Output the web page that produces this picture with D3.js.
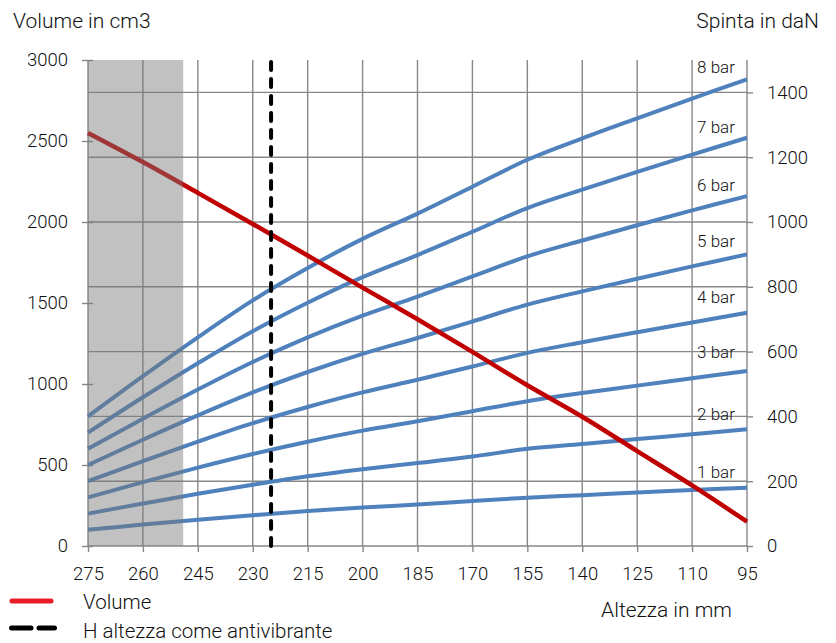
<!DOCTYPE html>
<html>
<head>
<meta charset="utf-8">
<script src="https://cdn.jsdelivr.net/npm/d3@7"></script>
<style>
  html, body { margin: 0; padding: 0; background: #fff; }
  svg { display: block; font-family: Roboto, "Noto Sans", sans-serif; font-weight: 300; }
  text { fill: #111; }
</style>
</head>
<body>
<svg id="chart" width="836" height="643"></svg>
<script>
// ---- data ----
const heights = [275, 260, 245, 230, 215, 200, 185, 170, 155, 140, 125, 110, 95];
const volume  = [2550, 2370, 2180, 1988, 1793, 1595, 1400, 1198, 992, 798, 586, 374, 150];
const bar1 = [50, 66, 81, 95, 108, 119, 128, 139, 149, 157, 165, 173, 180];
const bar2 = [100, 131, 161, 189, 215, 237, 256, 276, 300, 315, 330, 345, 360];
const bar3 = [150, 197, 242, 284, 322, 356, 385, 416, 447, 472, 495, 518, 540];
const bar4 = [200, 262, 322, 379, 429, 474, 513, 554, 596, 629, 660, 690, 720];
const bar5 = [250, 328, 403, 474, 537, 593, 642, 693, 745, 786, 825, 863, 900];
const bar6 = [300, 393, 483, 568, 644, 711, 770, 832, 894, 943, 990, 1036, 1080];
const bar7 = [350, 459, 564, 663, 751, 830, 898, 970, 1043, 1100, 1155, 1208, 1260];
const bar8 = [400, 524, 644, 758, 858, 948, 1026, 1109, 1192, 1258, 1320, 1381, 1440];
const barSeries = [bar1, bar2, bar3, bar4, bar5, bar6, bar7, bar8];
const barNames = ["1 bar", "2 bar", "3 bar", "4 bar", "5 bar", "6 bar", "7 bar", "8 bar"];
const leftTicks = [0, 500, 1000, 1500, 2000, 2500, 3000];
const rightTicks = [0, 200, 400, 600, 800, 1000, 1200, 1400];
const xTicks = heights;
const antivibHeight = 225;
const shadedRange = [275, 249];
const leftTitle = "Volume in cm3";
const rightTitle = "Spinta in daN";
const xTitle = "Altezza in mm";
const legendNames = ["Volume", "H altezza come antivibrante"];

// ---- layout ----
const svg = d3.select("#chart");
const x = d3.scaleLinear().domain([275, 95]).range([88, 747]);
const yL = d3.scaleLinear().domain([0, 3000]).range([546, 60]);
const yR = d3.scaleLinear().domain([0, 1500]).range([546, 60]);
const gridColor = "#878787";
const tickFont = 18.5;

// gridlines
const grid = svg.append("g");
grid.selectAll("line.v").data(xTicks).join("line")
  .attr("x1", d => x(d)).attr("x2", d => x(d))
  .attr("y1", yR(1500)).attr("y2", yR(0))
  .attr("stroke", gridColor).attr("stroke-width", 1.4);
grid.selectAll("line.h").data(rightTicks).join("line")
  .attr("x1", x(275)).attr("x2", x(95))
  .attr("y1", d => yR(d)).attr("y2", d => yR(d))
  .attr("stroke", gridColor).attr("stroke-width", 1.4);

// axes
function styleAxis(g) {
  g.attr("font-family", null).attr("font-size", null);
  g.select(".domain").remove();
  g.selectAll(".tick line").attr("stroke", gridColor).attr("stroke-width", 1.4);
  g.selectAll(".tick text").attr("font-size", tickFont).attr("fill", "#111");
}
svg.append("g").attr("transform", `translate(${x(275)},0)`)
  .call(d3.axisLeft(yL).tickValues(leftTicks).tickSize(6).tickPadding(14).tickFormat(d3.format("d")))
  .call(styleAxis)
  .call(g => g.selectAll(".tick line").attr("x1", 5));
svg.append("g").attr("transform", `translate(${x(95)},0)`)
  .call(d3.axisRight(yR).tickValues(rightTicks).tickSize(6).tickPadding(14).tickFormat(d3.format("d")))
  .call(styleAxis);
svg.append("g").attr("transform", `translate(0,${yR(0)})`)
  .call(d3.axisBottom(x).tickValues(xTicks).tickSize(6).tickPadding(15).tickFormat(d3.format("d")))
  .call(styleAxis);

// series
const lineR = d3.line().x((d, i) => x(heights[i])).y(d => yR(d)).curve(d3.curveCatmullRom.alpha(0.5));
const lineL = d3.line().x((d, i) => x(heights[i])).y(d => yL(d)).curve(d3.curveCatmullRom.alpha(0.5));
svg.append("g").selectAll("path").data(barSeries).join("path")
  .attr("d", d => lineR(d))
  .attr("fill", "none").attr("stroke", "#4f81bd").attr("stroke-width", 4)
  .attr("stroke-linejoin", "round");
svg.append("path").attr("d", lineL(volume))
  .attr("fill", "none").attr("stroke", "#c00000").attr("stroke-width", 4.5);

// shaded region (translucent overlay)
svg.append("rect")
  .attr("x", x(shadedRange[0])).attr("y", yR(1500))
  .attr("width", x(shadedRange[1]) - x(shadedRange[0]))
  .attr("height", yR(0) - yR(1500))
  .attr("fill", "#777").attr("fill-opacity", 0.46);

// antivibration height
svg.append("line")
  .attr("x1", x(antivibHeight)).attr("x2", x(antivibHeight))
  .attr("y1", yR(1500) + 2).attr("y2", yR(0))
  .attr("stroke", "#000").attr("stroke-width", 4)
  .attr("stroke-dasharray", "8,9").attr("stroke-linecap", "round");

// bar labels
const labelOffsets = [-10, -9, -13, -10, -7, -5.5, -5, -6.7];
svg.append("g").selectAll("text").data(barSeries).join("text")
  .attr("x", x(95) - 31)
  .attr("y", (d, i) => yR(d[d.length - 1]) + labelOffsets[i])
  .attr("text-anchor", "middle").attr("font-size", 17)
  .text((d, i) => barNames[i]);

// titles
svg.append("text").attr("x", 13).attr("y", 28).attr("font-size", 21).text(leftTitle);
svg.append("text").attr("x", 819).attr("y", 28).attr("text-anchor", "end").attr("font-size", 21).text(rightTitle);
svg.append("text").attr("x", 732).attr("y", 617).attr("text-anchor", "end").attr("font-size", 21).text(xTitle);

// legend
svg.append("line").attr("x1", 12).attr("x2", 51).attr("y1", 601).attr("y2", 601)
  .attr("stroke", "#ea1c2a").attr("stroke-width", 5).attr("stroke-linecap", "round");
svg.append("line").attr("x1", 11.5).attr("x2", 31).attr("y1", 628).attr("y2", 628)
  .attr("stroke", "#000").attr("stroke-width", 5).attr("stroke-linecap", "round");
svg.append("line").attr("x1", 39).attr("x2", 54.5).attr("y1", 628).attr("y2", 628)
  .attr("stroke", "#000").attr("stroke-width", 5).attr("stroke-linecap", "round");
svg.append("text").attr("x", 83).attr("y", 609).attr("font-size", 20.5).text(legendNames[0]);
svg.append("text").attr("x", 83).attr("y", 638).attr("font-size", 20.5).text(legendNames[1]);
</script>
</body>
</html>
